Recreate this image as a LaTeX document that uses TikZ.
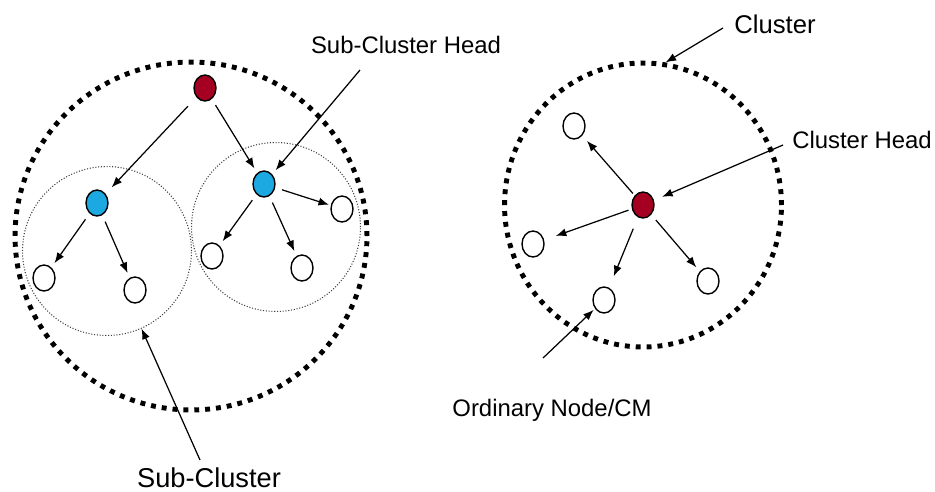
\documentclass[tikz,border=0pt]{standalone}
\usepackage{fontspec}
\setmainfont{Liberation Sans}
\usetikzlibrary{positioning,shapes.geometric,arrows.meta}
\definecolor{headred}{HTML}{A50021}
\definecolor{subblue}{HTML}{1CA8E0}
\tikzstyle{member} = [ellipse, draw, line width=0.8pt, fill=white, inner sep=0pt, minimum width=0.44cm, minimum height=0.52cm]
\tikzstyle{head} = [member, fill=headred]
\tikzstyle{subhead} = [member, fill=subblue]
\tikzstyle{cluster} = [ellipse, draw, line width=2.8pt, dash pattern=on 2.8pt off 3.4pt, inner sep=0pt]
\tikzstyle{subcluster} = [circle, draw=black!75, densely dotted, line width=0.6pt, inner sep=0pt, minimum size=3.38cm]
\tikzstyle{line} = [draw, -{Latex[length=6pt,width=4.6pt]}, line width=0.7pt]
\tikzstyle{link} = [line, shorten <=4pt, shorten >=3pt]
\tikzstyle{note} = [anchor=base, inner sep=0pt, font=\fontsize{13.6}{16}\selectfont]

\begin{document}
\begin{tikzpicture}[x=0.02cm, y=-0.02cm]
	\useasboundingbox (0,0) rectangle (935,491);
	% left: cluster split into sub-clusters
	\node [cluster, minimum width=7.04cm, minimum height=6.96cm] (clL) at (191,236) {};
	\node [subcluster] (subL) at (107,251) {};
	\node [subcluster] (subR) at (276,227) {};
	\node [head] (root) at (205,88) {};
	\node [subhead] (shL) at (97,203) {};
	\node [subhead] (shR) at (264,184) {};
	\node [member] (nL1) at (44,278) {};
	\node [member] (nL2) at (135,290) {};
	\node [member] (nR1) at (212,256) {};
	\node [member] (nR2) at (302,268) {};
	\node [member] (nR3) at (342,209) {};
	
	\path[link, shorten <=7pt, shorten >=5pt] (root) -- (shL);
	\path[link] (root) -- (shR);
	\path[link] (shL) -- (nL1);
	\path[link] (shL) -- (nL2);
	\path[link] (shR) -- (nR1);
	\path[link] (shR) -- (nR2);
	\path[link, shorten >=1pt] (shR) -- (nR3);
	
	% right: one cluster
	\node [cluster, minimum width=5.54cm, minimum height=5.68cm] (clR) at (643,205) {};
	\node [head] (ch) at (643,205) {};
	\node [member] (cm1) at (574,126) {};
	\node [member] (cm2) at (533,244) {};
	\node [member] (cm3) at (604,300) {};
	\node [member] (cm4) at (708,281) {};
	
	\path[link, shorten <=1.5pt, shorten >=4pt] (ch) -- (cm1);
	\path[link, shorten <=2pt, shorten >=7pt] (ch) -- (cm2);
	\path[link, shorten <=7pt, shorten >=7pt] (ch) -- (cm3);
	\path[link] (ch) -- (cm4);
	
	% labels
	\node [note] (lblSCH) at (406,53) {Sub-Cluster Head};
	\node [note, font=\fontsize{15.5}{18}\selectfont] (lblSC) at (209,487) {Sub-Cluster};
	\node [note, font=\fontsize{14.6}{17}\selectfont] (lblCl) at (775,33) {Cluster};
	\node [note] (lblCH) at (862,148) {Cluster Head};
	\node [note] (lblON) at (552,416) {Ordinary Node/CM};
	
	\coordinate (schFoot) at (360,70);
	\coordinate (scFoot) at (200,460);
	\coordinate (clFoot) at (723,28);
	\coordinate (chFoot) at (783,145);
	\coordinate (onFoot) at (543,358);
	\path[line, shorten >=3pt] (schFoot) -- (shR);
	\path[line] (scFoot) -- (subL);
	\path[line] (clFoot) -- (clR.81);
	\path[line, shorten >=5pt] (chFoot) -- (ch);
	\path[line, shorten >=1pt] (onFoot) -- (cm3);
\end{tikzpicture}
\end{document}
